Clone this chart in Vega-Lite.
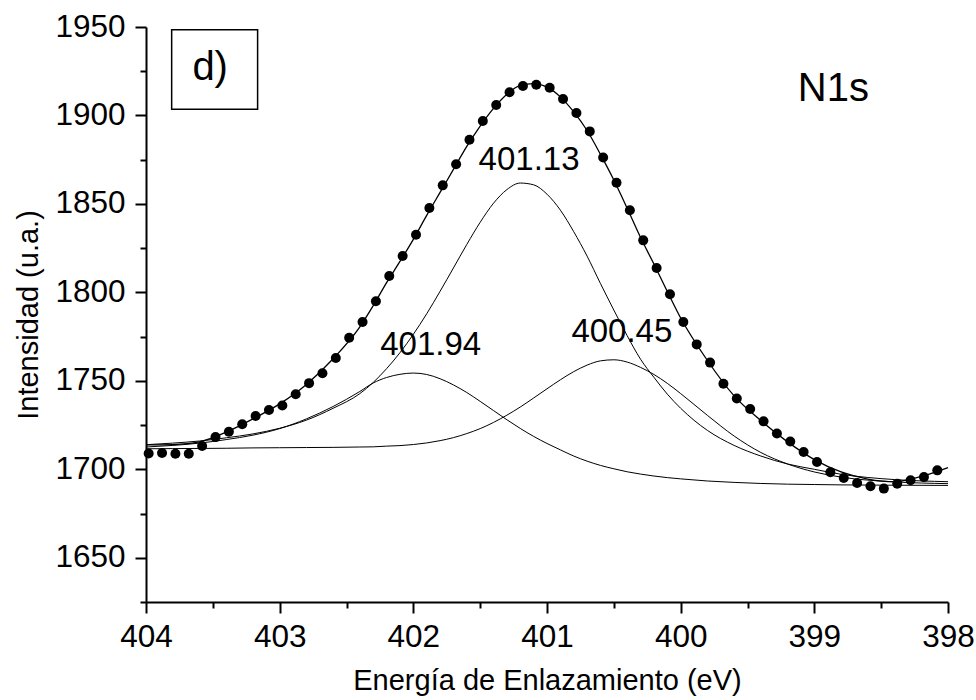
{
  "$schema": "https://vega.github.io/schema/vega-lite/v6.json",
  "width": 802,
  "height": 575,
  "autosize": {"type": "none"},
  "padding": {"left": 146, "top": 27, "right": 28, "bottom": 98},
  "background": "white",
  "config": {
    "view": {"stroke": null},
    "font": "Liberation Sans",
    "axis": {
      "grid": false,
      "domainColor": "black",
      "domainWidth": 2,
      "tickColor": "black",
      "tickWidth": 2,
      "labelColor": "black",
      "labelFont": "Liberation Sans",
      "labelFontSize": 31.5,
      "labelFlush": false,
      "labelOverlap": false,
      "titleColor": "black",
      "titleFont": "Liberation Sans",
      "titleFontSize": 29,
      "titleFontWeight": "normal"
    }
  },
  "datasets": {
    "curves": [
      {"E": 398.0, "curve": "c1", "I": 1690.9}, {"E": 398.4, "curve": "c1", "I": 1691.0}, {"E": 398.8, "curve": "c1", "I": 1691.2},
      {"E": 399.0, "curve": "c1", "I": 1691.4}, {"E": 399.2, "curve": "c1", "I": 1691.6}, {"E": 399.4, "curve": "c1", "I": 1692.0},
      {"E": 399.6, "curve": "c1", "I": 1692.6}, {"E": 399.8, "curve": "c1", "I": 1693.4}, {"E": 400.0, "curve": "c1", "I": 1694.6},
      {"E": 400.1, "curve": "c1", "I": 1695.3}, {"E": 400.2, "curve": "c1", "I": 1696.2}, {"E": 400.3, "curve": "c1", "I": 1697.3},
      {"E": 400.4, "curve": "c1", "I": 1698.6}, {"E": 400.5, "curve": "c1", "I": 1700.3}, {"E": 400.6, "curve": "c1", "I": 1702.2},
      {"E": 400.7, "curve": "c1", "I": 1704.6}, {"E": 400.8, "curve": "c1", "I": 1707.5}, {"E": 400.9, "curve": "c1", "I": 1711.0},
      {"E": 401.0, "curve": "c1", "I": 1714.6}, {"E": 401.1, "curve": "c1", "I": 1718.6}, {"E": 401.2, "curve": "c1", "I": 1723.1},
      {"E": 401.3, "curve": "c1", "I": 1728.0}, {"E": 401.4, "curve": "c1", "I": 1733.2}, {"E": 401.5, "curve": "c1", "I": 1738.4},
      {"E": 401.6, "curve": "c1", "I": 1743.4}, {"E": 401.7, "curve": "c1", "I": 1747.7}, {"E": 401.8, "curve": "c1", "I": 1751.2},
      {"E": 401.9, "curve": "c1", "I": 1753.6}, {"E": 402.0, "curve": "c1", "I": 1754.4}, {"E": 402.1, "curve": "c1", "I": 1753.7},
      {"E": 402.2, "curve": "c1", "I": 1751.9}, {"E": 402.3, "curve": "c1", "I": 1748.8}, {"E": 402.4, "curve": "c1", "I": 1744.0},
      {"E": 402.6, "curve": "c1", "I": 1735.5}, {"E": 402.8, "curve": "c1", "I": 1728.5}, {"E": 403.0, "curve": "c1", "I": 1723.0},
      {"E": 403.2, "curve": "c1", "I": 1719.3}, {"E": 403.4, "curve": "c1", "I": 1716.8}, {"E": 403.6, "curve": "c1", "I": 1714.8},
      {"E": 403.8, "curve": "c1", "I": 1713.5}, {"E": 404.0, "curve": "c1", "I": 1712.6},

      {"E": 398.0, "curve": "c2", "I": 1693.0}, {"E": 398.4, "curve": "c2", "I": 1694.2}, {"E": 398.8, "curve": "c2", "I": 1697.2},
      {"E": 399.0, "curve": "c2", "I": 1700.0}, {"E": 399.2, "curve": "c2", "I": 1703.0}, {"E": 399.4, "curve": "c2", "I": 1707.5},
      {"E": 399.6, "curve": "c2", "I": 1713.5}, {"E": 399.8, "curve": "c2", "I": 1722.0}, {"E": 400.0, "curve": "c2", "I": 1734.5},
      {"E": 400.1, "curve": "c2", "I": 1742.5}, {"E": 400.2, "curve": "c2", "I": 1752.0}, {"E": 400.3, "curve": "c2", "I": 1762.2},
      {"E": 400.4, "curve": "c2", "I": 1775.5}, {"E": 400.5, "curve": "c2", "I": 1790.0}, {"E": 400.6, "curve": "c2", "I": 1805.0},
      {"E": 400.7, "curve": "c2", "I": 1820.5}, {"E": 400.8, "curve": "c2", "I": 1834.3}, {"E": 400.9, "curve": "c2", "I": 1846.5},
      {"E": 401.0, "curve": "c2", "I": 1855.5}, {"E": 401.1, "curve": "c2", "I": 1860.8}, {"E": 401.2, "curve": "c2", "I": 1861.8},
      {"E": 401.3, "curve": "c2", "I": 1858.1}, {"E": 401.4, "curve": "c2", "I": 1850.4}, {"E": 401.5, "curve": "c2", "I": 1839.6},
      {"E": 401.6, "curve": "c2", "I": 1827.1}, {"E": 401.7, "curve": "c2", "I": 1813.8}, {"E": 401.8, "curve": "c2", "I": 1800.6},
      {"E": 401.9, "curve": "c2", "I": 1787.9}, {"E": 402.0, "curve": "c2", "I": 1776.3}, {"E": 402.1, "curve": "c2", "I": 1765.9},
      {"E": 402.2, "curve": "c2", "I": 1756.9}, {"E": 402.3, "curve": "c2", "I": 1749.1}, {"E": 402.4, "curve": "c2", "I": 1742.8},
      {"E": 402.6, "curve": "c2", "I": 1734.5}, {"E": 402.8, "curve": "c2", "I": 1727.8}, {"E": 403.0, "curve": "c2", "I": 1723.2},
      {"E": 403.2, "curve": "c2", "I": 1720.0}, {"E": 403.4, "curve": "c2", "I": 1717.8}, {"E": 403.6, "curve": "c2", "I": 1716.0},
      {"E": 403.8, "curve": "c2", "I": 1714.8}, {"E": 404.0, "curve": "c2", "I": 1713.9},

      {"E": 398.0, "curve": "c3", "I": 1691.9}, {"E": 398.4, "curve": "c3", "I": 1692.9}, {"E": 398.8, "curve": "c3", "I": 1695.6},
      {"E": 399.0, "curve": "c3", "I": 1698.5}, {"E": 399.2, "curve": "c3", "I": 1703.0}, {"E": 399.4, "curve": "c3", "I": 1709.5},
      {"E": 399.6, "curve": "c3", "I": 1718.8}, {"E": 399.8, "curve": "c3", "I": 1730.5}, {"E": 400.0, "curve": "c3", "I": 1742.8},
      {"E": 400.1, "curve": "c3", "I": 1748.6}, {"E": 400.2, "curve": "c3", "I": 1753.6}, {"E": 400.3, "curve": "c3", "I": 1757.6},
      {"E": 400.4, "curve": "c3", "I": 1760.6}, {"E": 400.5, "curve": "c3", "I": 1761.9}, {"E": 400.6, "curve": "c3", "I": 1761.3},
      {"E": 400.7, "curve": "c3", "I": 1758.9}, {"E": 400.8, "curve": "c3", "I": 1755.2}, {"E": 400.9, "curve": "c3", "I": 1750.6},
      {"E": 401.0, "curve": "c3", "I": 1745.5}, {"E": 401.1, "curve": "c3", "I": 1740.3}, {"E": 401.2, "curve": "c3", "I": 1735.2},
      {"E": 401.3, "curve": "c3", "I": 1730.6}, {"E": 401.4, "curve": "c3", "I": 1726.5}, {"E": 401.5, "curve": "c3", "I": 1723.0},
      {"E": 401.6, "curve": "c3", "I": 1720.2}, {"E": 401.7, "curve": "c3", "I": 1717.9}, {"E": 401.8, "curve": "c3", "I": 1716.2},
      {"E": 401.9, "curve": "c3", "I": 1714.9}, {"E": 402.0, "curve": "c3", "I": 1714.0}, {"E": 402.1, "curve": "c3", "I": 1713.4},
      {"E": 402.2, "curve": "c3", "I": 1713.1}, {"E": 402.3, "curve": "c3", "I": 1712.7}, {"E": 402.4, "curve": "c3", "I": 1712.6},
      {"E": 402.6, "curve": "c3", "I": 1712.4}, {"E": 402.8, "curve": "c3", "I": 1712.3}, {"E": 403.0, "curve": "c3", "I": 1712.2},
      {"E": 403.2, "curve": "c3", "I": 1712.1}, {"E": 403.4, "curve": "c3", "I": 1711.9}, {"E": 403.6, "curve": "c3", "I": 1711.8},
      {"E": 403.8, "curve": "c3", "I": 1711.7}, {"E": 404.0, "curve": "c3", "I": 1711.6},

      {"E": 398.0, "curve": "fit", "I": 1701.0}, {"E": 398.2, "curve": "fit", "I": 1696.0}, {"E": 398.4, "curve": "fit", "I": 1693.0},
      {"E": 398.6, "curve": "fit", "I": 1694.5}, {"E": 398.8, "curve": "fit", "I": 1698.5}, {"E": 399.0, "curve": "fit", "I": 1705.5},
      {"E": 399.2, "curve": "fit", "I": 1715.5}, {"E": 399.4, "curve": "fit", "I": 1727.5}, {"E": 399.6, "curve": "fit", "I": 1741.5},
      {"E": 399.8, "curve": "fit", "I": 1761.5}, {"E": 400.0, "curve": "fit", "I": 1785.5}, {"E": 400.1, "curve": "fit", "I": 1800.5},
      {"E": 400.2, "curve": "fit", "I": 1816.0}, {"E": 400.3, "curve": "fit", "I": 1831.0}, {"E": 400.4, "curve": "fit", "I": 1847.5},
      {"E": 400.5, "curve": "fit", "I": 1863.5}, {"E": 400.6, "curve": "fit", "I": 1878.0}, {"E": 400.7, "curve": "fit", "I": 1891.5},
      {"E": 400.8, "curve": "fit", "I": 1902.0}, {"E": 400.9, "curve": "fit", "I": 1910.5}, {"E": 401.0, "curve": "fit", "I": 1916.0},
      {"E": 401.1, "curve": "fit", "I": 1918.0}, {"E": 401.2, "curve": "fit", "I": 1917.0}, {"E": 401.3, "curve": "fit", "I": 1912.0},
      {"E": 401.4, "curve": "fit", "I": 1904.0}, {"E": 401.5, "curve": "fit", "I": 1894.0}, {"E": 401.6, "curve": "fit", "I": 1882.5},
      {"E": 401.7, "curve": "fit", "I": 1869.5}, {"E": 401.8, "curve": "fit", "I": 1856.5}, {"E": 401.9, "curve": "fit", "I": 1843.5},
      {"E": 402.0, "curve": "fit", "I": 1830.0}, {"E": 402.1, "curve": "fit", "I": 1817.5}, {"E": 402.2, "curve": "fit", "I": 1805.5},
      {"E": 402.3, "curve": "fit", "I": 1792.5}, {"E": 402.4, "curve": "fit", "I": 1780.5}, {"E": 402.6, "curve": "fit", "I": 1762.5},
      {"E": 402.8, "curve": "fit", "I": 1748.0}, {"E": 403.0, "curve": "fit", "I": 1737.0}, {"E": 403.2, "curve": "fit", "I": 1728.5},
      {"E": 403.4, "curve": "fit", "I": 1721.0}, {"E": 403.6, "curve": "fit", "I": 1715.5}, {"E": 403.8, "curve": "fit", "I": 1714.0},
      {"E": 404.0, "curve": "fit", "I": 1713.8}
    ],
    "measured": [
      {"E": 403.98, "I": 1708.9}, {"E": 403.88, "I": 1709.2}, {"E": 403.78, "I": 1708.8}, {"E": 403.68, "I": 1708.8},
      {"E": 403.58, "I": 1713.2}, {"E": 403.48, "I": 1718.2}, {"E": 403.38, "I": 1721.2}, {"E": 403.28, "I": 1725.5},
      {"E": 403.18, "I": 1730.1}, {"E": 403.08, "I": 1733.5}, {"E": 402.98, "I": 1736.1}, {"E": 402.88, "I": 1742.4},
      {"E": 402.78, "I": 1748.7}, {"E": 402.68, "I": 1754.3}, {"E": 402.58, "I": 1762.9}, {"E": 402.48, "I": 1774.4},
      {"E": 402.38, "I": 1783.3}, {"E": 402.28, "I": 1795.0}, {"E": 402.18, "I": 1809.3}, {"E": 402.08, "I": 1820.6},
      {"E": 401.98, "I": 1832.6}, {"E": 401.88, "I": 1847.7}, {"E": 401.78, "I": 1860.5}, {"E": 401.68, "I": 1872.4},
      {"E": 401.58, "I": 1886.3}, {"E": 401.48, "I": 1896.9}, {"E": 401.38, "I": 1905.9}, {"E": 401.28, "I": 1913.1},
      {"E": 401.18, "I": 1916.7}, {"E": 401.08, "I": 1917.4}, {"E": 400.98, "I": 1915.7}, {"E": 400.88, "I": 1909.3},
      {"E": 400.78, "I": 1901.4}, {"E": 400.68, "I": 1891.0}, {"E": 400.58, "I": 1876.2}, {"E": 400.48, "I": 1862.0},
      {"E": 400.38, "I": 1846.4}, {"E": 400.28, "I": 1829.4}, {"E": 400.18, "I": 1813.8}, {"E": 400.08, "I": 1798.9},
      {"E": 399.98, "I": 1783.3}, {"E": 399.88, "I": 1770.6}, {"E": 399.78, "I": 1760.3}, {"E": 399.68, "I": 1748.4},
      {"E": 399.58, "I": 1740.0}, {"E": 399.48, "I": 1734.1}, {"E": 399.38, "I": 1727.1}, {"E": 399.28, "I": 1720.2},
      {"E": 399.18, "I": 1715.7}, {"E": 399.08, "I": 1709.8}, {"E": 398.98, "I": 1704.1}, {"E": 398.88, "I": 1698.3},
      {"E": 398.78, "I": 1695.1}, {"E": 398.68, "I": 1692.3}, {"E": 398.58, "I": 1690.4}, {"E": 398.48, "I": 1689.1},
      {"E": 398.38, "I": 1691.9}, {"E": 398.28, "I": 1693.8}, {"E": 398.18, "I": 1695.6}, {"E": 398.08, "I": 1699.4}
    ],
    "peaks": [
      {"E": 401.87, "I": 1764.4, "txt": "401.94"},
      {"E": 401.134, "I": 1869.0, "txt": "401.13"},
      {"E": 400.44, "I": 1772.0, "txt": "400.45"}
    ],
    "tags": [
      {"E": 398.858, "I": 1908.0, "txt": "N1s"},
      {"E": 403.52, "I": 1919.9, "txt": "d)"}
    ],
    "panelBox": [
      {"E": 403.808, "E2": 403.165, "I": 1903.5, "I2": 1948.5}
    ]
  },
  "encoding": {
    "x": {
      "field": "E",
      "type": "quantitative",
      "scale": {"domain": [398, 404], "reverse": true, "nice": false, "zero": false},
      "axis": {
        "title": "Energía de Enlazamiento (eV)",
        "values": [398, 398.5, 399, 399.5, 400, 400.5, 401, 401.5, 402, 402.5, 403, 403.5, 404],
        "labelExpr": "datum.value % 1 === 0 ? format(datum.value, 'd') : ''",
        "tickSize": {"condition": {"test": "datum.value % 1 === 0", "value": 11}, "value": 6},
        "labelPadding": 8,
        "titlePadding": 14
      }
    },
    "y": {
      "field": "I",
      "type": "quantitative",
      "scale": {"domain": [1625, 1950], "nice": false, "zero": false},
      "axis": {
        "title": "Intensidad (u.a.)",
        "values": [1625, 1650, 1675, 1700, 1725, 1750, 1775, 1800, 1825, 1850, 1875, 1900, 1925, 1950],
        "labelExpr": "datum.value % 50 === 0 ? format(datum.value, 'd') : ''",
        "tickSize": {"condition": {"test": "datum.value % 50 === 0", "value": 11}, "value": 6},
        "labelPadding": 10,
        "titlePadding": 11
      }
    }
  },
  "layer": [
    {
      "data": {"name": "panelBox"},
      "mark": {"type": "rect", "fill": "white", "stroke": "black", "strokeWidth": 1.5},
      "encoding": {
        "x2": {"field": "E2"},
        "y2": {"field": "I2"}
      }
    },
    {
      "data": {"name": "curves"},
      "transform": [{"filter": "datum.curve !== 'fit'"}],
      "mark": {"type": "line", "color": "black", "strokeWidth": 1, "interpolate": "monotone"},
      "encoding": {"detail": {"field": "curve"}}
    },
    {
      "data": {"name": "curves"},
      "transform": [{"filter": "datum.curve === 'fit'"}],
      "mark": {"type": "line", "color": "black", "strokeWidth": 1.3, "interpolate": "monotone"},
      "encoding": {}
    },
    {
      "data": {"name": "measured"},
      "mark": {"type": "circle", "color": "black", "opacity": 1, "size": 100},
      "encoding": {}
    },
    {
      "data": {"name": "peaks"},
      "mark": {"type": "text", "font": "Liberation Sans", "fontSize": 33, "color": "black", "align": "center", "baseline": "alphabetic"},
      "encoding": {"text": {"field": "txt"}}
    },
    {
      "data": {"name": "tags"},
      "mark": {"type": "text", "font": "Liberation Sans", "fontSize": 40, "color": "black", "align": "center", "baseline": "alphabetic"},
      "encoding": {"text": {"field": "txt"}}
    }
  ]
}
